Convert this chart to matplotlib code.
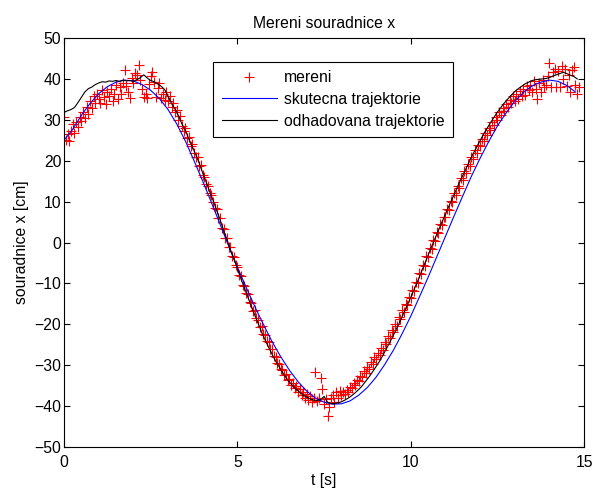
import numpy as np
import matplotlib
matplotlib.use('Agg')
import matplotlib.pyplot as plt

plt.rcParams['font.family'] = ['Liberation Sans', 'DejaVu Sans']

# measured positions (red +), sampled every 0.05 s
t_meas = np.round(np.arange(0, 14.86, 0.05), 2)
meas = [
    30.7, 25.0, 26.5, 24.8, 27.3, 28.9, 26.8, 29.5, 28.2, 30.8, 29.6, 31.9, 30.4, 33.2, 31.5, 34.6, 33.0, 35.8, 34.1, 36.4,
    35.0, 34.0, 37.2, 35.5, 33.9, 36.8, 35.9, 37.5, 34.6, 36.2, 38.4, 35.1, 37.9, 36.3, 39.0, 42.2, 38.2, 36.7, 35.3, 40.1,
    38.9, 41.4, 40.9, 43.3, 39.8, 37.6, 35.5, 36.2, 35.4, 38.7, 40.6, 41.7, 39.2, 35.6, 37.8, 38.9, 35.4, 36.3, 34.8, 36.9,
    34.7, 35.9, 33.2, 34.1, 31.8, 32.4, 30.0, 30.9, 28.6, 27.2, 27.9, 25.6, 25.9, 23.7, 24.1, 21.9, 21.0, 20.8, 18.7, 18.9,
    16.6, 16.0, 14.2, 13.9, 12.0, 11.6, 9.8, 8.4, 8.1, 6.0, 5.9, 3.6, 3.4, 1.2, 1.0, -1.1, -1.2, -3.4, -3.6, -5.5,
    -6.0, -7.9, -8.2, -10.3, -10.5, -12.4, -12.6, -14.5, -14.8, -16.7, -16.5, -18.4, -18.9, -20.6, -20.5, -22.3, -22.6, -24.1, -24.3, -25.9,
    -26.1, -27.8, -27.9, -29.5, -29.6, -31.0, -31.1, -32.4, -32.2, -33.6, -33.4, -34.7, -34.3, -35.6, -35.1, -36.4, -35.8, -37.2, -36.5, -38.0,
    -37.1, -38.4, -37.6, -38.9, -38.0, -31.6, -38.7, -37.9, -33.0, -35.7, -39.5, -38.2, -42.3, -40.2, -38.0, -37.3, -39.0, -36.6, -37.9, -36.2,
    -37.3, -36.5, -37.0, -36.1, -36.4, -35.2, -35.6, -34.3, -34.8, -33.5, -33.9, -32.6, -32.8, -31.5, -31.9, -30.3, -30.8, -29.2, -29.6, -28.0,
    -28.5, -27.1, -27.6, -25.8, -26.2, -24.3, -24.9, -22.9, -23.3, -21.4, -21.8, -19.9, -20.3, -18.3, -18.7, -16.6, -17.0, -15.0, -15.2, -13.3,
    -13.6, -11.5, -11.8, -9.6, -9.9, -7.5, -7.8, -5.4, -5.7, -3.4, -3.6, -1.3, -1.5, 0.7, 0.4, 2.6, 2.4, 4.5, 4.3, 6.3,
    6.2, 8.3, 8.0, 10.2, 9.8, 12.0, 11.6, 13.9, 13.4, 15.7, 15.3, 17.4, 17.0, 19.2, 18.7, 20.9, 20.3, 22.5, 21.9, 23.8,
    23.5, 25.4, 24.9, 26.8, 26.3, 28.1, 27.6, 29.5, 28.8, 30.7, 30.0, 31.8, 31.2, 32.9, 32.1, 33.9, 33.2, 34.8, 34.0, 35.7,
    34.6, 36.3, 35.2, 37.0, 35.9, 37.5, 36.1, 38.3, 37.2, 38.6, 36.8, 39.4, 37.6, 35.0, 38.9, 36.7, 39.8, 37.9, 38.4, 40.6,
    43.8, 38.0, 41.6, 42.4, 38.1, 41.9, 38.0, 43.1, 39.9, 42.5, 38.2, 40.9, 36.7, 42.1, 43.0, 38.4, 36.2, 38.0,
]

# true trajectory (blue), every 0.25 s
t_true = np.arange(0, 14.8, 0.25)
true_x = [
    25.0, 27.7, 31.1, 34.0, 36.4, 38.1, 39.2, 39.7, 39.5, 38.6, 37.2, 35.2, 32.5, 29.0, 24.8, 20.0,
    15.0, 9.8, 4.5, -0.9, -6.0, -10.9, -15.6, -20.0, -24.2, -27.9, -31.2, -34.0, -36.3, -38.0, -39.0, -39.5,
    -39.4, -38.7, -37.3, -35.4, -32.9, -29.8, -26.3, -22.3, -18.0, -13.3, -8.5, -3.5, 1.5, 6.5, 11.4, 16.2,
    20.6, 24.7, 28.5, 31.7, 34.5, 36.7, 38.3, 39.2, 39.7, 39.4, 38.4, 36.8,
]

# estimated trajectory (black), every 0.1 s
t_est = np.round(np.arange(0, 14.85, 0.1), 1)
est_x = [
    31.8, 32.2, 32.5, 33.0, 34.2, 35.5, 36.8, 37.6, 38.0, 38.6,
    39.0, 39.3, 39.2, 39.5, 39.4, 39.6, 39.4, 39.7, 39.5, 39.6,
    39.4, 39.8, 40.3, 41.0, 40.2, 39.6, 39.3, 38.8, 38.2, 37.4,
    35.8, 34.0, 32.6, 31.0, 29.0, 27.4, 25.3, 23.4, 21.5, 19.4,
    17.0, 14.8, 12.5, 10.3, 7.9, 5.6, 3.0, 0.7, -1.8, -4.0,
    -6.4, -8.8, -11.0, -13.3, -15.5, -17.7, -19.8, -21.9, -23.8, -25.6,
    -27.3, -28.9, -30.3, -31.7, -33.0, -34.1, -35.0, -35.9, -36.6, -37.3,
    -37.8, -38.2, -38.5, -38.6, -38.4, -37.6, -39.0, -39.4, -39.3, -39.2,
    -38.9, -38.5, -38.0, -37.4, -36.7, -35.9, -35.0, -33.9, -32.8, -31.6,
    -30.3, -29.0, -27.5, -25.9, -24.3, -22.6, -20.9, -19.1, -17.2, -15.3,
    -13.4, -11.4, -9.4, -7.3, -5.2, -3.1, -1.0, 1.0, 3.0, 5.0,
    6.9, 8.9, 10.8, 12.7, 14.6, 16.4, 18.2, 20.0, 21.7, 23.3,
    24.9, 26.5, 27.9, 29.3, 30.6, 31.9, 33.0, 34.1, 35.1, 36.0,
    36.9, 37.6, 38.2, 38.8, 39.2, 39.6, 39.8, 39.9, 40.0, 40.1,
    40.3, 40.7, 41.0, 41.3, 41.6, 41.3, 40.9, 40.6, 40.0,
]

fs = 11.3
fig = plt.figure(figsize=(5.93, 4.93), dpi=100)
ax = fig.add_axes([0.108, 0.093, 0.877, 0.830])

ax.plot(t_meas, meas, '+', color='red', markersize=7, markeredgewidth=0.8, label='mereni')
ax.plot(t_true, true_x, color='blue', linewidth=0.8, label='skutecna trajektorie')
ax.plot(t_est, est_x, color='black', linewidth=0.8, label='odhadovana trajektorie')

ax.set_xlim(0, 15)
ax.set_ylim(-50, 50)
ax.set_xticks([0, 5, 10, 15])
ax.set_yticks(np.arange(-50, 51, 10))
ax.tick_params(direction='in', top=True, right=True, length=4, width=0.8, labelsize=fs)
ax.tick_params(axis='x', pad=6)
ax.tick_params(axis='y', pad=2)
for s in ax.spines.values():
    s.set_linewidth(0.8)

ax.set_title('Mereni souradnice x', fontsize=fs, pad=7)
ax.set_xlabel('t [s]', fontsize=fs, labelpad=2)
ax.set_ylabel('souradnice x [cm]', fontsize=fs, labelpad=4)

leg = ax.legend(loc='upper left', bbox_to_anchor=(0.287, 0.942), fontsize=fs,
                handlelength=3.5, fancybox=False, edgecolor='black', framealpha=1,
                borderpad=0.55, labelspacing=0.42, handletextpad=0.45, borderaxespad=0)
leg.get_frame().set_linewidth(0.8)

plt.savefig('out.png', dpi=100)
